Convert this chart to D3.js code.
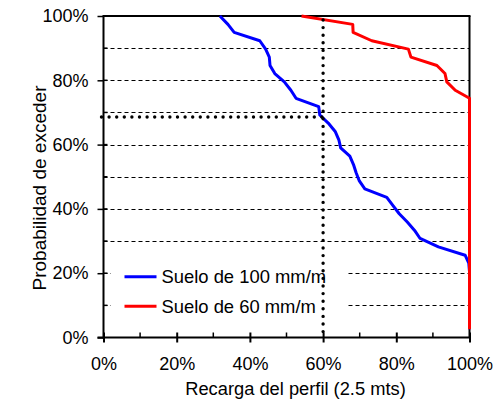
<!DOCTYPE html>
<html>
<head>
<meta charset="utf-8">
<script src="https://cdn.jsdelivr.net/npm/d3@7"></script>
<style>
  html, body { margin: 0; padding: 0; background: #fff; }
  svg { display: block; }
  text { font-family: "Liberation Sans", Arial, sans-serif; fill: #000; }
</style>
</head>
<body>
<svg id="chart" width="495" height="400"></svg>
<script>
// ---- Data ----
const probLevels = [100, 97.4, 94.9, 92.3, 89.7, 87.2, 84.6, 82.1, 79.5, 76.9, 74.4, 71.8, 69.2, 66.7, 64.1, 61.5, 59.0, 56.4, 53.8, 51.3, 48.7, 46.2, 43.6, 41.0, 38.5, 35.9, 33.3, 30.8, 28.2, 25.6, 23.1, 20.5, 17.9, 15.4, 12.8, 10.3, 7.7, 5.1, 2.6];
const recarga100 = [31.8, 34.0, 35.7, 42.7, 44.3, 45.3, 45.5, 46.8, 49.4, 51.2, 52.6, 58.8, 59.1, 61.4, 63.3, 64.3, 64.8, 67.3, 68.3, 69.0, 69.9, 71.4, 77.4, 79.1, 80.8, 83.0, 85.0, 86.5, 91.5, 98.8, 99.8, 100, 100, 100, 100, 100, 100, 100, 100];
const recarga60 = [54.1, 68.1, 68.2, 73.3, 83.3, 84.0, 91.1, 93.3, 93.8, 96.1, 100, 100, 100, 100, 100, 100, 100, 100, 100, 100, 100, 100, 100, 100, 100, 100, 100, 100, 100, 100, 100, 100, 100, 100, 100, 100, 100, 100, 100];
const seriesNames = ["Suelo de 100 mm/m", "Suelo de 60 mm/m"];
const seriesColors = ["#0000FF", "#FF0000"];
const xTicks = [0, 20, 40, 60, 80, 100];
const yTicks = [0, 20, 40, 60, 80, 100];
const gridLevels = [10, 20, 30, 40, 50, 60, 70, 80, 90];
const refX = 60;     // dotted reference: recarga
const refY = 68.6;   // dotted reference: probabilidad
const xTitle = "Recarga del perfil (2.5 mts)";
const yTitle = "Probabilidad de exceder";

// ---- Layout ----
const svg = d3.select("#chart");
const x = d3.scaleLinear().domain([0, 100]).range([103.5, 469.5]);
const y = d3.scaleLinear().domain([0, 100]).range([337.5, 16]);
const fmt = d => d + "%";
const FS = 18;

// gridlines (dashed)
svg.append("g").selectAll("line").data(gridLevels).join("line")
  .attr("x1", x(0)).attr("x2", x(100))
  .attr("y1", d => Math.round(y(d)) + 0.5).attr("y2", d => Math.round(y(d)) + 0.5)
  .attr("stroke", "#000").attr("stroke-width", 1).attr("stroke-dasharray", "4,3");

// plot border top/right
svg.append("line").attr("x1", x(0)).attr("x2", x(100) + 1).attr("y1", y(100)).attr("y2", y(100))
  .attr("stroke", "#000").attr("stroke-width", 2);
svg.append("line").attr("x1", x(100)).attr("x2", x(100)).attr("y1", y(100)).attr("y2", y(0))
  .attr("stroke", "#000").attr("stroke-width", 2);

// series lines
const data100 = probLevels.map((p, i) => [recarga100[i], p]);
const data60 = probLevels.map((p, i) => [recarga60[i], p]);
const line = d3.line().x(d => x(d[0])).y(d => y(d[1]));
[data100, data60].forEach((ds, i) => {
  svg.append("path").datum(ds)
    .attr("d", line).attr("fill", "none")
    .attr("stroke", seriesColors[i]).attr("stroke-width", 3)
    .attr("stroke-linejoin", "round");
});

// legend (white box hides gridlines)
const lg = svg.append("g");
lg.append("rect").attr("x", x(2)).attr("y", 256).attr("width", 348 - x(2)).attr("height", 66).attr("fill", "#fff");
seriesNames.forEach((n, i) => {
  const ly = 276.7 + i * 29.5;
  lg.append("line").attr("x1", 124.5).attr("x2", 156.5).attr("y1", ly).attr("y2", ly)
    .attr("stroke", seriesColors[i]).attr("stroke-width", 3);
  lg.append("text").attr("x", 161.5).attr("y", ly + 6.5).attr("font-size", 18.4).text(n);
});

// dotted reference lines
const dotted = svg.append("g").attr("stroke", "#000").attr("stroke-width", 3.4)
  .attr("stroke-linecap", "round").attr("stroke-dasharray", "0,7.6").attr("fill", "none");
dotted.append("line").attr("x1", x(refX)).attr("x2", x(refX)).attr("y1", y(100) + 4).attr("y2", y(0));
dotted.append("line").attr("x1", x(0) - 2).attr("x2", x(refX)).attr("y1", y(refY)).attr("y2", y(refY));

// y axis
const yAxis = d3.axisLeft(y).tickValues(yTicks).tickFormat(fmt).tickSize(6).tickPadding(9);
const gy = svg.append("g").attr("transform", `translate(${x(0)},0)`).call(yAxis);
gy.select(".domain").attr("stroke-width", 2).attr("d", `M0,${y(100) - 1}V${y(0) + 1}`);
gy.selectAll(".tick line").attr("stroke-width", 1.5);
gy.selectAll(".tick text").attr("font-size", FS).attr("font-family", "Liberation Sans, Arial, sans-serif");
// y minor ticks (inside)
svg.append("g").selectAll("line").data(gridLevels).join("line")
  .attr("x1", x(0)).attr("x2", x(0) + 4).attr("y1", d => y(d)).attr("y2", d => y(d))
  .attr("stroke", "#000").attr("stroke-width", 1.5);

// x axis
const xAxis = d3.axisBottom(x).tickValues(xTicks).tickFormat(fmt).tickSize(5).tickPadding(15);
const gx = svg.append("g").attr("transform", `translate(0,${y(0)})`).call(xAxis);
gx.select(".domain").attr("stroke-width", 2).attr("d", `M${x(0) - 6},0H${x(100) + 1}`);
gx.selectAll(".tick line").attr("stroke-width", 2).attr("y1", -5);
gx.selectAll(".tick text").attr("font-size", FS).attr("font-family", "Liberation Sans, Arial, sans-serif");
// x minor ticks (inside)
svg.append("g").selectAll("line").data([10, 30, 50, 70, 90]).join("line")
  .attr("x1", d => x(d)).attr("x2", d => x(d)).attr("y1", y(0)).attr("y2", y(0) - 5)
  .attr("stroke", "#000").attr("stroke-width", 1.5);

// titles
svg.append("text").attr("x", 295.5).attr("y", 394.5).attr("text-anchor", "middle")
  .attr("font-size", 18.3).text(xTitle);
svg.append("text").attr("transform", "translate(46,188) rotate(-90)").attr("text-anchor", "middle")
  .attr("font-size", 19).text(yTitle);
</script>
</body>
</html>
